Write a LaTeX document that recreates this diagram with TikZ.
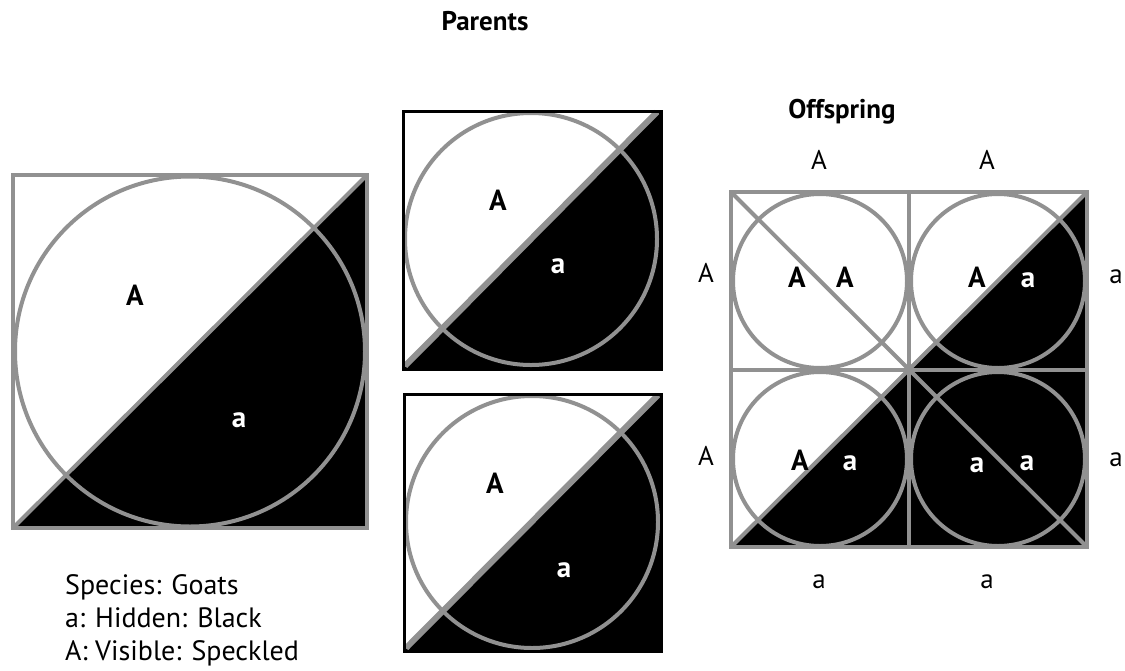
\documentclass[tikz,border=0pt]{standalone}
\usepackage{fontspec}
\setmainfont{PT Sans}
\definecolor{lg}{RGB}{145,145,145}
\tikzset{
  gl/.style={draw=lg, line width=4pt},
  gd/.style={draw=lg, line width=6pt},
  bb/.style={draw=black, line width=3pt},
  lbl/.style={inner sep=0pt, anchor=base, font=\fontsize{27}{32}\selectfont},
  ttl/.style={lbl, font=\fontsize{27}{32}\selectfont\bfseries},
  blbl/.style={lbl, font=\fontsize{29}{34}\selectfont\bfseries},
  wlbl/.style={blbl, text=white},
  leg/.style={inner sep=0pt, anchor=base west, font=\fontsize{28}{33}\selectfont}
}
\begin{document}
\begin{tikzpicture}[x=1pt,y=-1pt]
\useasboundingbox (0,0) rectangle (1125,670);
% titles
\node[ttl] (tpar) at (485,30) {Parents};
\node[ttl] (toff) at (842,118) {Offspring};
% big square
\fill[black] (13,528) -- (367,528) -- (367,175) -- cycle;
\draw[gl] (190,351.5) circle (175);
\draw[gl] (14,527) -- (366,176);
\draw[gl] (13,175) rectangle (367,528);
\node[blbl] (bA) at (135,305) {A};
\node[wlbl] (ba) at (239,427) {a};
% middle top
\fill[black] (403,369) -- (661,369) -- (661,111) -- cycle;
\draw[gl] (531,239) circle (126);
\draw[gd] (405,366) -- (657,112);
\draw[bb] (403,111) rectangle (661,369);
\node[blbl] (mtA) at (498,210) {A};
\node[wlbl] (mta) at (558,273) {a};
% middle bottom
\fill[black] (404,651) -- (661,651) -- (661,394) -- cycle;
\draw[gl] (532,522) circle (126);
\draw[gd] (406,648) -- (658,395);
\draw[bb] (404,394) rectangle (661,651);
\node[blbl] (mbA) at (495,493) {A};
\node[wlbl] (mba) at (564,577) {a};
% offspring
\fill[black] (731,547) -- (1087,547) -- (1087,192) -- cycle;
\draw[gl] (820,281) circle (87);
\draw[gl] (998,281) circle (87);
\draw[gl] (820,459) circle (87);
\draw[gl] (998,459) circle (87);
\draw[gl] (733,545) -- (1085,194);
\draw[gl] (733,194) -- (1085,545);
\draw[gl] (909,192) -- (909,547);
\draw[gl] (731,370) -- (1087,370);
\draw[gl] (731,192) rectangle (1087,547);
\node[blbl] (o1) at (797,287) {A};
\node[blbl] (o2) at (845,287) {A};
\node[blbl] (o3) at (977,287) {A};
\node[wlbl] (o4) at (1028,287) {a};
\node[blbl] (o5) at (800,470) {A};
\node[wlbl] (o6) at (850,470) {a};
\node[wlbl] (o7) at (977,472) {a};
\node[wlbl] (o8) at (1027,470) {a};
% side labels
\node[lbl] (t1) at (819,169) {A};
\node[lbl] (t2) at (987,169) {A};
\node[lbl] (l1) at (706,282) {A};
\node[lbl] (l2) at (706,465) {A};
\node[lbl] (r1) at (1116,283) {a};
\node[lbl] (r2) at (1116,466) {a};
\node[lbl] (b1) at (819,588) {a};
\node[lbl] (b2) at (987,588) {a};
% legend
\node[leg] (g1) at (65,594) {Species: Goats};
\node[leg] (g2) at (65,627) {a: Hidden: Black};
\node[leg] (g3) at (65,660) {A: Visible: Speckled};
\end{tikzpicture}
\end{document}
